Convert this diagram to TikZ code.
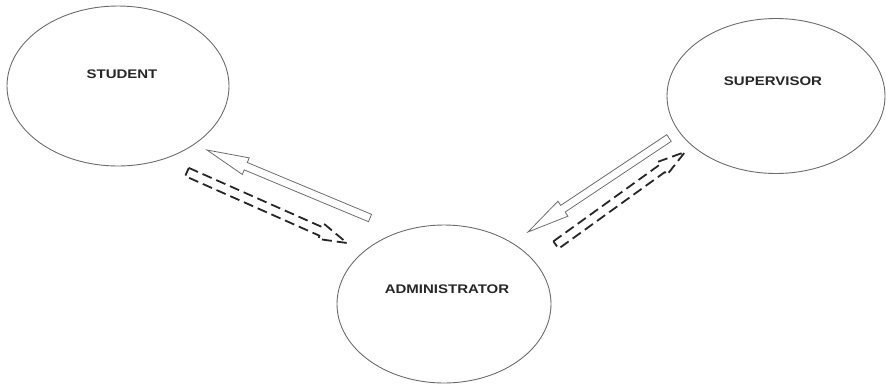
\documentclass[tikz,border=0pt]{standalone}
\usepackage{fontspec}
\setmainfont{Liberation Sans}
\usetikzlibrary{calc,shapes.geometric}
\definecolor{outline}{gray}{0.42}
\tikzset{
  actor/.style={draw=outline, line width=0.9pt, ellipse, inner sep=0pt},
  actorlabel/.style={font=\fontsize{12.5}{14}\selectfont\bfseries, text=black!85},
  blockarrow/.style={draw=outline, line width=0.8pt, line join=miter},
  dasharrow/.style={draw=black!85, line width=1.8pt, dash pattern=on 10pt off 5pt, line join=round},
}
% hollow block arrow from #1 to #2: shaft half-width #3, head half-width #4, head length #5
\newcommand{\blockarr}[6]{%
  \coordinate (#1-neck) at ($(#2)!#5!(#1)$);
  \draw[#6]
    ($(#1)!#3!90:(#2)$) -- ($(#1-neck)!#3!90:(#2)$) -- ($(#1-neck)!#4!90:(#2)$)
    -- (#2) -- ($(#1-neck)!#4!-90:(#2)$) -- ($(#1-neck)!#3!-90:(#2)$)
    -- ($(#1)!#3!-90:(#2)$) -- cycle;}
\begin{document}
\begin{tikzpicture}[x=1pt,y=-1pt]
\useasboundingbox (0,0) rectangle (886,384);
% actors
\node[actor, minimum width=222pt, minimum height=160pt] (student) at (118,86) {};
\node[actor, minimum width=214pt, minimum height=158pt] (admin) at (444,304) {};
\node[actor, minimum width=218pt, minimum height=155pt] (super) at (776,96) {};
\node[actorlabel] (studentlbl) at (122,74) {\scalebox{1.2}[1]{STUDENT}};
\node[actorlabel] (adminlbl) at (447,289) {\scalebox{1.2}[1]{ADMINISTRATOR}};
\node[actorlabel] (superlbl) at (773,81) {\scalebox{1.2}[1]{SUPERVISOR}};
% arrow end points between the actors
\coordinate (s-tail) at (370,218);
\coordinate (s-tip) at (207,150);
\coordinate (sd-tail) at (187,172);
\coordinate (sd-tip) at (347,243);
\coordinate (v-tail) at (669,138);
\coordinate (v-tip) at (528,232);
\coordinate (vd-tail) at (556,245);
\coordinate (vd-tip) at (685,152);
% administrator -> student, student -> administrator
\blockarr{s-tail}{s-tip}{4pt}{9pt}{42pt}{blockarrow}
\blockarr{sd-tail}{sd-tip}{4.5pt}{8pt}{28pt}{dasharrow}
% supervisor -> administrator, administrator -> supervisor
\blockarr{v-tail}{v-tip}{4pt}{9pt}{42pt}{blockarrow}
\blockarr{vd-tail}{vd-tip}{4.5pt}{8pt}{28pt}{dasharrow}
\end{tikzpicture}
\end{document}
